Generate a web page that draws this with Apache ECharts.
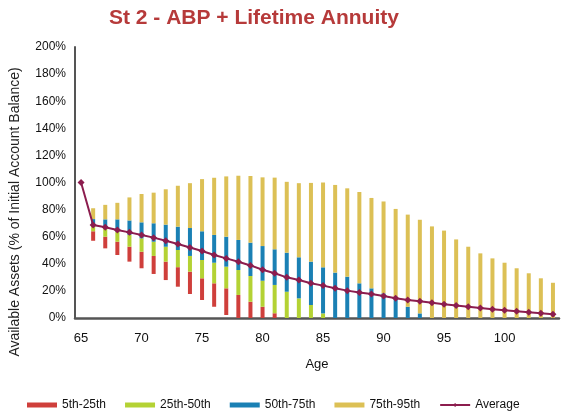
<!DOCTYPE html>
<html>
<head>
<meta charset="utf-8">
<script src="https://cdn.jsdelivr.net/npm/echarts@6/dist/echarts.min.js"></script>
<style>html,body{margin:0;padding:0;background:#fff}#c{width:570px;height:414px}</style>
</head>
<body>
<div id="c"></div>
<script>
const ages = [];
for (let a = 65; a <= 104; a++) ages.push(String(a));

// percentiles (% of initial account balance), index 0 = age 65
const p5  = [null,57,51.4,46.5,41.6,36.7,32.5,28,23.1,17.7,13.3,8.3,2.2,0,0,0,0,0,0,0,0,0,0,0,0,0,0,0,0,0,0,0,0,0,0,0,0,0,0,0];
const p25 = [null,64,60,56.3,52.6,48.9,45.8,41.6,37.5,34.2,29.3,25.6,21.9,17,12,8.3,3.5,0,0,0,0,0,0,0,0,0,0,0,0,0,0,0,0,0,0,0,0,0,0,0];
const p50 = [null,68.6,66.2,63.7,61.3,58.8,56.3,52.6,50.2,45.8,42.8,40.8,37.9,35.4,31,27.5,24.4,19.4,14.5,9.6,3.4,0,0,0,0,0,0,0,0,0,0,0,0,0,0,0,0,0,0,0];
const p75 = [null,73,72.8,72.8,72,70.6,69.9,68.9,67.4,66.4,64,61.3,60,57.6,55.6,53.1,50.7,48.2,44.8,41.6,37.4,33.5,30.5,25.6,21.9,18.2,14.5,8.3,3.4,0,0,0,0,0,0,0,0,0,0,0];
const p95 = [null,81,83.5,85,89,91.5,92.5,95,97.6,99.5,102.5,103.5,104.5,105,104.8,103.8,103.6,100.5,99.5,99.7,100,98.2,95.7,93,88.6,86,80.5,76.3,72.5,67.6,64.5,58,52.6,47.7,44,40.8,36.7,33,29.3,26];
const average = [100,68.6,66.9,64.9,63.2,61.3,59.3,57,54.6,52,49.4,46.5,44,41.5,38.8,35.6,33,30,28,25.6,23.9,21.9,20.2,18.9,17.7,16.2,14.5,13.3,12.3,11.2,10.1,9.3,8.3,7.3,6.5,5.8,5.0,4.2,3.5,2.8];
const yTicks = [0,20,40,60,80,100,120,140,160,180,200];

const diff = (hi, lo) => hi.map((v, i) => v == null ? null : +(v - lo[i]).toFixed(2));

const chart = echarts.init(document.getElementById('c'), null, {renderer: 'canvas'});
const barW = 4;
const colors = {red: '#cf3f3b', green: '#b4d234', blue: '#1a80b4', yellow: '#dcc055', avg: '#8c1d4e'};
const FONT = 'Liberation Sans, Arial, sans-serif';

chart.setOption({
  animation: false,
  backgroundColor: '#ffffff',
  title: {
    text: 'St 2 - ABP + Lifetime Annuity',
    left: 104, top: 3,
    textStyle: {color: '#b63a3a', fontSize: 21, fontWeight: 'bold', fontFamily: FONT}
  },
  grid: {left: 75, right: 11, top: 47, bottom: 96, containLabel: false},
  legend: {
    left: 22, top: 394, itemWidth: 30, itemHeight: 5, itemGap: 19,
    textStyle: {fontSize: 12, color: '#111', fontFamily: FONT},
    data: [
      {name: '5th-25th', icon: 'rect'},
      {name: '25th-50th', icon: 'rect'},
      {name: '50th-75th', icon: 'rect'},
      {name: '75th-95th', icon: 'rect'},
      {name: 'Average'}
    ]
  },
  xAxis: {
    type: 'category', data: ages, boundaryGap: true,
    name: 'Age', nameLocation: 'middle', nameGap: 40,
    nameTextStyle: {fontSize: 13, color: '#111', fontFamily: FONT},
    axisLine: {show: true, lineStyle: {color: '#555', width: 2.5}},
    axisTick: {show: false},
    axisLabel: {
      interval: (idx, val) => (+val) % 5 === 0,
      fontSize: 13, color: '#111', margin: 14, fontFamily: FONT
    },
    splitLine: {show: false}
  },
  yAxis: {
    type: 'value', min: yTicks[0], max: yTicks[yTicks.length - 1], interval: 20,
    axisLine: {show: true, lineStyle: {color: '#555', width: 2}},
    axisTick: {show: false},
    axisLabel: {formatter: '{value}%', fontSize: 12, color: '#111', margin: 9, fontFamily: FONT},
    splitLine: {show: false}
  },
  graphic: [{
    type: 'text', x: 15, y: 212, rotation: Math.PI / 2,
    style: {
      text: 'Available Assets (% of Initial Account Balance)',
      fill: '#222', font: '14px "Liberation Sans", Arial, sans-serif',
      align: 'center', verticalAlign: 'middle'
    }
  }],
  series: [
    {name: 'base', type: 'bar', stack: 'p', barWidth: barW, silent: true,
     itemStyle: {color: 'rgba(0,0,0,0)'}, data: p5},
    {name: '5th-25th', type: 'bar', stack: 'p', barWidth: barW,
     itemStyle: {color: colors.red}, data: diff(p25, p5)},
    {name: '25th-50th', type: 'bar', stack: 'p', barWidth: barW,
     itemStyle: {color: colors.green}, data: diff(p50, p25)},
    {name: '50th-75th', type: 'bar', stack: 'p', barWidth: barW,
     itemStyle: {color: colors.blue}, data: diff(p75, p50)},
    {name: '75th-95th', type: 'bar', stack: 'p', barWidth: barW,
     itemStyle: {color: colors.yellow}, data: diff(p95, p75)},
    {name: 'Average', type: 'line', data: average, z: 5,
     symbol: 'diamond', symbolSize: 7, showSymbol: true,
     lineStyle: {color: colors.avg, width: 2}, itemStyle: {color: colors.avg}}
  ]
});
</script>
</body>
</html>
